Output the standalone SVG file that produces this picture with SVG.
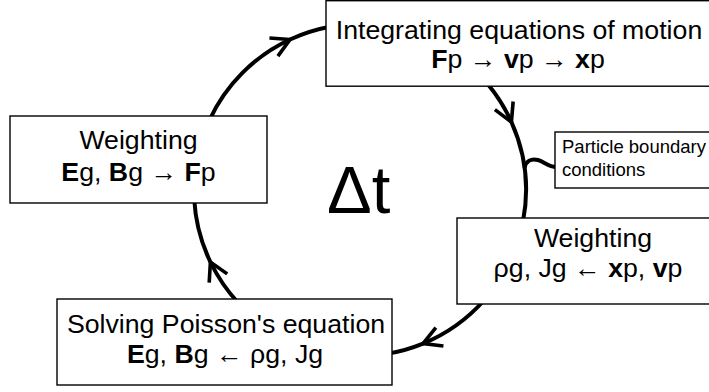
<svg xmlns="http://www.w3.org/2000/svg" width="709" height="392" viewBox="0 0 709 392">
<style>
.box{fill:#fff;stroke:#000;stroke-width:1.4}
.lbl{font-family:"Liberation Sans",Arial,sans-serif;font-size:26.7px;fill:#000;text-anchor:middle}
.small{font-family:"Liberation Sans",Arial,sans-serif;font-size:18.5px;fill:#000}
.b{font-weight:bold}
.arc{fill:none;stroke:#000;stroke-width:4;stroke-linecap:butt}
</style>
<defs>
<marker id="chev" markerUnits="userSpaceOnUse" markerWidth="40" markerHeight="40" viewBox="-20 -20 40 40" refX="0" refY="0" orient="auto" overflow="visible">
<path d="M -18 -10 L 0 0 L -18 10" fill="none" stroke="#000" stroke-width="3.6"/>
</marker>
</defs>
<rect width="709" height="392" fill="#fff"/>
<g id="connectors">
<path class="arc" marker-mid="url(#chev)" d="M 209.5 120 A 166 166 0 0 1 290 39.5 A 166 166 0 0 1 330 26.7"/>
<path class="arc" marker-mid="url(#chev)" d="M 487.7 84 A 166 166 0 0 1 511.4 122 A 166 166 0 0 1 522.9 222"/>
<path class="arc" marker-mid="url(#chev)" d="M 484.3 300 A 166 166 0 0 1 423 343.6 A 166 166 0 0 1 388 353.6"/>
<path class="arc" marker-mid="url(#chev)" d="M 238.4 303 A 166 166 0 0 1 210.4 262 A 166 166 0 0 1 194.2 199"/>
<path class="arc" d="M 524.5 168 C 526 161, 531 158, 538 160 C 545 162, 549 168, 558 167"/>
</g>
<g id="integrate">
<rect class="box" x="326" y="0.7" width="390" height="85.5"/>
<text class="lbl" x="519" y="39">Integrating equations of motion</text>
<text class="lbl" x="518" y="68"><tspan class="b">F</tspan>p → <tspan class="b">v</tspan>p → <tspan class="b">x</tspan>p</text>
</g>
<g id="weight-force">
<rect class="box" x="10" y="116" width="257" height="87"/>
<text class="lbl" x="138.5" y="149">Weighting</text>
<text class="lbl" x="138.5" y="181"><tspan class="b">E</tspan>g, <tspan class="b">B</tspan>g → <tspan class="b">F</tspan>p</text>
</g>
<g id="boundary">
<rect class="box" x="555" y="132" width="160" height="56"/>
<text class="small" x="562" y="153">Particle boundary</text>
<text class="small" x="562" y="176">conditions</text>
</g>
<g id="weight-charge">
<rect class="box" x="457" y="218" width="260" height="86"/>
<text class="lbl" x="593" y="247">Weighting</text>
<text class="lbl" x="588" y="277">ρg, Jg ← <tspan class="b">x</tspan>p, <tspan class="b">v</tspan>p</text>
</g>
<g id="poisson">
<rect class="box" x="57" y="299" width="335" height="86"/>
<text class="lbl" x="226" y="333">Solving Poisson's equation</text>
<text class="lbl" x="225" y="363"><tspan class="b">E</tspan>g, <tspan class="b">B</tspan>g ← ρg, Jg</text>
</g>
<g id="dt">
<text x="327" y="213" style="font-family:'Liberation Sans',Arial,sans-serif;font-size:67px">Δt</text>
</g>
</svg>
